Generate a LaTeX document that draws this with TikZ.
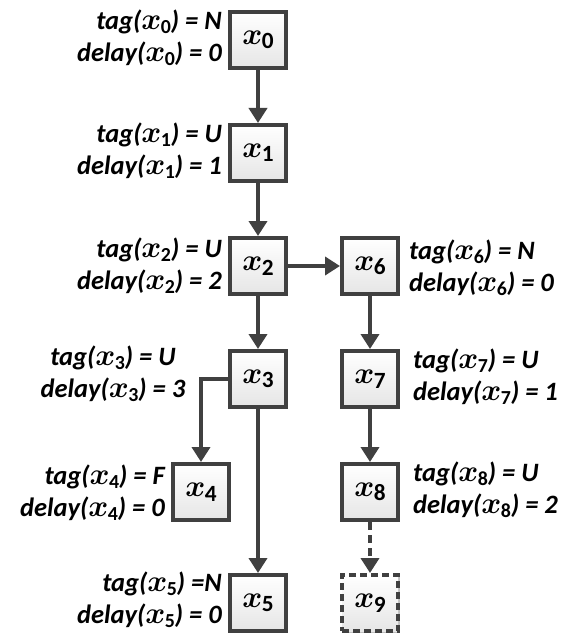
\documentclass[tikz,border=0pt]{standalone}
\usepackage{amsmath}
\usepackage{fontspec}
\setmainfont{Carlito}
\usetikzlibrary{shadows,arrows.meta}
\definecolor{dk}{HTML}{404040}
\newcommand{\xv}[1]{\scalebox{1.22}{$\boldsymbol{x}$}\kern-0.5pt\raisebox{-0.3ex}{\scalebox{0.75}{\upshape\bfseries #1}}}
\tikzset{
  vbox/.style={draw=dk, line width=4pt, minimum size=56pt, inner sep=0pt,
    top color=white, bottom color=black!10,
    drop shadow={shadow xshift=2pt, shadow yshift=-2pt, opacity=0.25, fill=black},
    font=\fontsize{31}{31}\selectfont\bfseries},
  dbox/.style={vbox, dash pattern=on 7pt off 4pt},
  lbl/.style={font=\fontsize{26.5}{32}\selectfont\bfseries\itshape, inner sep=0pt},
  conn/.style={draw=dk, line width=4pt, -{Triangle[length=15pt,width=18pt]}},
  dconn/.style={conn, dash pattern=on 8pt off 5pt},
}
\begin{document}
\begin{tikzpicture}[x=1pt,y=-1pt]
\useasboundingbox (0,0) rectangle (563,636);
% nodes
\node[vbox] (x0) at (258,40) {\xv{0}};
\node[vbox] (x1) at (258,153) {\xv{1}};
\node[vbox] (x2) at (258,266) {\xv{2}};
\node[vbox] (x3) at (258,379) {\xv{3}};
\node[vbox] (x4) at (201,492) {\xv{4}};
\node[vbox] (x5) at (258,603) {\xv{5}};
\node[vbox] (x6) at (370,266) {\xv{6}};
\node[vbox] (x7) at (370,379) {\xv{7}};
\node[vbox] (x8) at (370,492) {\xv{8}};
\node[dbox] (x9) at (370,603) {\xv{9}};
% labels
\node[lbl, align=right, anchor=east] (l0) at (222,38) {tag(\xv{0}) = N\\delay(\xv{0}) = 0};
\node[lbl, align=right, anchor=east] (l1) at (222,151) {tag(\xv{1}) = U\\delay(\xv{1}) = 1};
\node[lbl, align=right, anchor=east] (l2) at (222,266) {tag(\xv{2}) = U\\delay(\xv{2}) = 2};
\node[lbl, align=center] (l3) at (113,374) {tag(\xv{3}) = U\\delay(\xv{3}) = 3};
\node[lbl, align=right, anchor=east] (l4) at (165,493) {tag(\xv{4}) = F\\delay(\xv{4}) = 0};
\node[lbl, align=right, anchor=east] (l5) at (222,600) {tag(\xv{5}) =N\\delay(\xv{5}) = 0};
\node[lbl, align=left, anchor=west] (l6) at (409,268) {tag(\xv{6}) = N\\delay(\xv{6}) = 0};
\node[lbl, align=left, anchor=west] (l7) at (413,377) {tag(\xv{7}) = U\\delay(\xv{7}) = 1};
\node[lbl, align=left, anchor=west] (l8) at (413,490) {tag(\xv{8}) = U\\delay(\xv{8}) = 2};
% connectors
\draw[conn] (x0) -- (x1);
\draw[conn] (x1) -- (x2);
\draw[conn] (x2) -- (x3);
\draw[conn] (x2) -- (x6);
\draw[conn] (x6) -- (x7);
\draw[conn] (x7) -- (x8);
\draw[dconn] (x8) -- (x9);
\draw[conn] (x3.west) -| (x4.north);
\draw[conn] (x3) -- (x5);
\end{tikzpicture}
\end{document}
